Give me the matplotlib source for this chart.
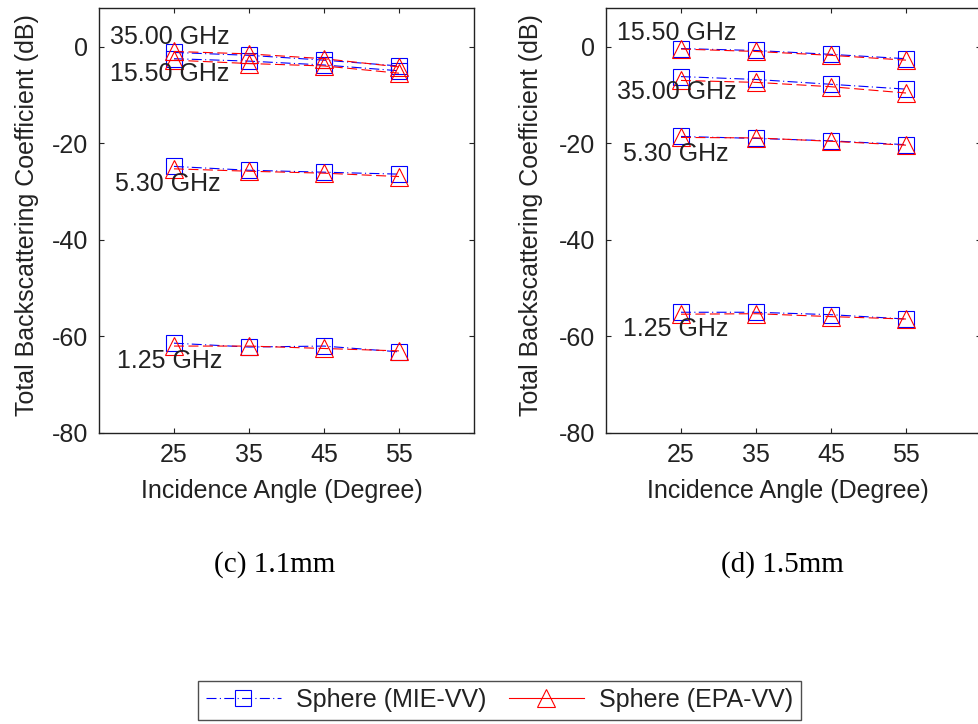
import matplotlib
matplotlib.use("Agg")
import matplotlib.pyplot as plt
from matplotlib.lines import Line2D

plt.rcParams['font.family'] = ['Liberation Sans', 'DejaVu Sans']
plt.rcParams['axes.unicode_minus'] = False

angles = [25, 35, 45, 55]
freq_labels = ["35.00 GHz", "15.50 GHz", "5.30 GHz", "1.25 GHz"]

# (c) 1.1mm
c_mie_35 = [-1.2, -1.8, -2.8, -4.0]
c_epa_35 = [-1.0, -1.5, -2.5, -4.2]
c_mie_155 = [-2.5, -3.0, -3.8, -5.0]
c_epa_155 = [-2.8, -3.5, -4.0, -5.5]
c_mie_53 = [-24.8, -25.6, -26.0, -26.4]
c_epa_53 = [-25.3, -25.8, -26.2, -26.9]
c_mie_125 = [-61.4, -62.2, -62.0, -63.2]
c_epa_125 = [-62.0, -62.0, -62.5, -63.0]

# (d) 1.5mm
d_mie_155 = [-0.4, -0.8, -1.6, -2.5]
d_epa_155 = [-0.5, -1.0, -1.8, -2.8]
d_mie_35 = [-6.2, -6.8, -7.8, -8.8]
d_epa_35 = [-7.0, -7.4, -8.3, -9.6]
d_mie_53 = [-18.6, -19.0, -19.5, -20.3]
d_epa_53 = [-18.8, -18.9, -19.6, -20.4]
d_mie_125 = [-55.0, -55.0, -55.5, -56.4]
d_epa_125 = [-55.4, -55.3, -55.9, -56.4]

yticks = [0, -20, -40, -60, -80]
captions = ["(c) 1.1mm", "(d) 1.5mm"]
legend_labels = ["Sphere (MIE-VV)", "Sphere (EPA-VV)"]

# label positions (data coords)
c_label_pos = {"35.00 GHz": (16.5, 2.0), "15.50 GHz": (16.5, -5.6),
               "5.30 GHz": (17.1, -28.4), "1.25 GHz": (17.4, -65.1)}
d_label_pos = {"15.50 GHz": (16.5, 2.9), "35.00 GHz": (16.5, -9.4),
               "5.30 GHz": (17.3, -22.2), "1.25 GHz": (17.3, -58.4)}

W, H = 979, 724
fig = plt.figure(figsize=(W / 100, H / 100), dpi=100)

blue = (0, 0, 1)
red = (1, 0, 0)
lw = 0.8
blue_ls = (0, (9, 3, 1, 3))
red_ls = (0, (9, 4))
FS = 18


def make_ax(x0px, mie_sets, epa_sets, label_pos, caption, cap_x, xlab_x, ylab_x):
    ax = fig.add_axes([x0px / W, (H - 433) / H, 375 / W, 425 / H])
    for m in mie_sets:
        ax.plot(angles, m, color=blue, linestyle=blue_ls, linewidth=lw,
                marker='s', markersize=12, markerfacecolor='none',
                markeredgecolor=blue, markeredgewidth=lw)
    for e in epa_sets:
        ax.plot(angles, e, color=red, linestyle=red_ls, linewidth=lw,
                marker='^', markersize=13, markerfacecolor='none',
                markeredgecolor=red, markeredgewidth=lw)
    for lab, (x, y) in label_pos.items():
        ax.text(x, y, lab, fontsize=FS, ha='left', va='center', color='#222222')
    ax.set_xlim(15, 65)
    ax.set_ylim(-80, 8)
    ax.set_xticks(angles)
    ax.set_yticks(yticks)
    ax.tick_params(direction='in', top=True, right=True, length=3.6, width=0.8,
                   labelsize=FS, colors='#222222')
    ax.tick_params(axis='y', pad=8)
    ax.tick_params(axis='x', pad=7)
    for s in ax.spines.values():
        s.set_linewidth(1.0)
        s.set_color('#222222')
    ax.set_xlabel("Incidence Angle (Degree)", fontsize=FS, color='#222222')
    ax.xaxis.set_label_coords((xlab_x - x0px) / 375, (433 - 491) / 425)
    ax.xaxis.label.set_va('center')
    ax.set_ylabel("Total Backscattering Coefficient (dB)", fontsize=FS, color='#222222')
    ax.yaxis.set_label_coords((ylab_x - x0px) / 375, (433 - 215) / 425)
    ax.yaxis.label.set_va('center')
    fig.text(cap_x / W, 1 - 565 / H, caption, fontsize=21, ha='center', va='center',
             family=['Liberation Serif', 'DejaVu Serif'])
    return ax


make_ax(99, [c_mie_35, c_mie_155, c_mie_53, c_mie_125],
        [c_epa_35, c_epa_155, c_epa_53, c_epa_125], c_label_pos, captions[0],
        275, 282, 27)
make_ax(606, [d_mie_155, d_mie_35, d_mie_53, d_mie_125],
        [d_epa_155, d_epa_35, d_epa_53, d_epa_125], d_label_pos, captions[1],
        782, 788, 531)

h1 = Line2D([], [], color=blue, linestyle=blue_ls, linewidth=lw, marker='s',
            markersize=12, markerfacecolor='none', markeredgecolor=blue, markeredgewidth=lw)
h2 = Line2D([], [], color=red, linestyle='-', linewidth=lw, marker='^',
            markersize=13, markerfacecolor='none', markeredgecolor=red, markeredgewidth=lw)
leg = fig.legend([h1, h2], legend_labels, ncol=2, fontsize=FS, loc='center',
                 bbox_to_anchor=(499.5 / W, 1 - 700 / H), frameon=True, fancybox=False,
                 handlelength=3.0, handletextpad=0.6, columnspacing=0.9,
                 borderpad=0.3, borderaxespad=0)
leg.get_frame().set_edgecolor('#222222')
leg.get_frame().set_linewidth(1.0)
for t in leg.get_texts():
    t.set_color('#222222')

fig.savefig("out.png", dpi=100)
